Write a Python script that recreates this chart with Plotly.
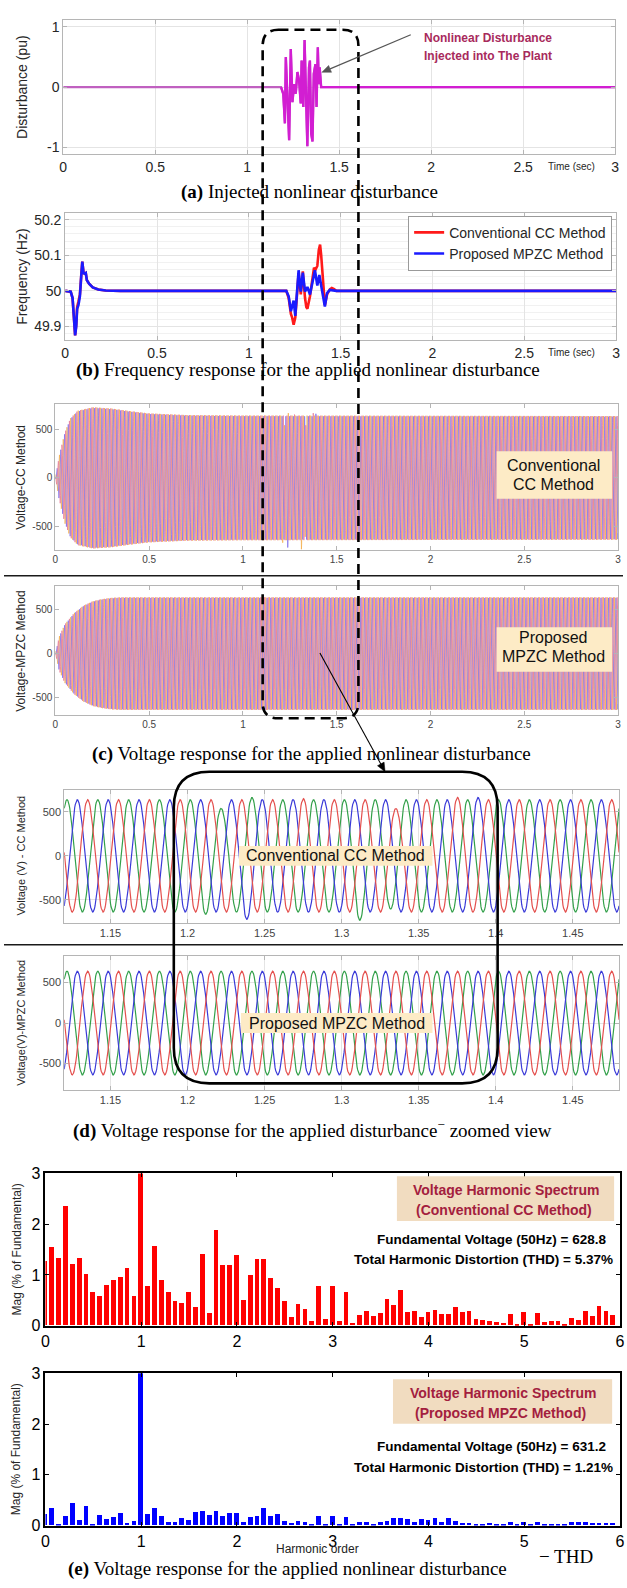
import numpy as np
import plotly.graph_objects as go

W, H = 627, 1588

# ---------------- DATA ----------------
# (a) injected disturbance (pu)
DIST_T = [0.0, 1.184, 1.196, 1.205, 1.210, 1.220, 1.228, 1.237, 1.246, 1.255, 1.264, 1.273, 1.282, 1.291,
          1.296, 1.305, 1.312, 1.319, 1.327, 1.336, 1.341, 1.348, 1.355, 1.362, 1.371, 1.377, 1.384, 1.389,
          1.394, 1.402, 3.0]
DIST_V = [0.0, 0.0, -0.11, -0.60, 0.50, -0.27, -0.88, 0.63, -0.25, 0.05, -0.11, 0.25, 0.11, -0.27,
          0.44, -0.33, 0.78, -0.05, -0.98, 0.33, 0.44, -0.77, -0.90, 0.22, 0.38, -0.33, 0.66, 0.05,
          0.33, 0.0, 0.0]
BURST_IDX = (1, 30)   # samples that form the burst

# (b) frequency (Hz)
FREQ_T_CC = [0.0, 0.03, 0.04, 0.047, 0.054, 0.06, 0.065, 0.072, 0.08, 0.087, 0.093, 0.1, 0.107, 0.112,
             0.118, 0.13, 0.15, 0.18, 0.22, 0.3,
             1.204, 1.217, 1.229, 1.236, 1.244, 1.253, 1.262, 1.271, 1.283, 1.294, 1.306, 1.313, 1.319,
             1.333, 1.348, 1.355, 1.363, 1.373, 1.381, 1.388, 1.394, 1.401, 1.407, 1.414, 1.426, 1.441,
             1.452, 1.462, 1.477, 3.0]
FREQ_CC = [50.0, 49.998, 49.98, 49.92, 49.875, 49.905, 49.955, 49.97, 49.99, 50.04, 50.082, 50.05, 50.048,
           50.05, 50.03, 50.02, 50.01, 50.004, 50.001, 50.0,
           50.0, 49.98, 49.935, 49.925, 49.905, 49.925, 49.99, 50.05, 49.99, 50.055, 49.98, 49.955, 49.95,
           49.985, 50.04, 50.065, 50.06, 50.07, 50.115, 50.13, 50.1, 50.04, 49.99, 49.96, 49.99, 50.004,
           50.008, 50.006, 50.0, 50.0]
FREQ_T_MPZC = [0.0, 0.03, 0.04, 0.047, 0.054, 0.06, 0.065, 0.072, 0.08, 0.087, 0.093, 0.1, 0.107, 0.112,
               0.118, 0.13, 0.15, 0.18, 0.22, 0.3,
               1.204, 1.217, 1.229, 1.244, 1.253, 1.271, 1.283, 1.294, 1.306, 1.319, 1.333, 1.348, 1.36,
               1.373, 1.384, 1.401, 1.414, 1.426, 1.441, 1.477, 3.0]
FREQ_MPZC = [50.0, 49.998, 49.98, 49.92, 49.875, 49.9, 49.95, 49.96, 49.985, 50.04, 50.082, 50.05, 50.048,
             50.05, 50.03, 50.02, 50.01, 50.004, 50.001, 50.0,
             50.0, 49.985, 49.943, 49.973, 49.93, 50.058, 49.998, 50.051, 49.998, 50.011, 49.99, 50.028,
             50.058, 50.015, 50.045, 49.994, 49.956, 49.994, 50.003, 50.0, 50.0]

# (c)/(d) three-phase voltages: amplitude envelopes (V)
CC_ENV_T = [0.0, 0.02, 0.05, 0.08, 0.12, 0.2, 0.3, 0.4, 0.5, 0.7, 1.0, 3.0]
CC_ENV_V = [0, 220, 460, 610, 690, 725, 712, 685, 662, 645, 640, 635]
MPZC_ENV_T = [0.0, 0.02, 0.05, 0.1, 0.15, 0.2, 0.25, 0.3, 0.35, 3.0]
MPZC_ENV_V = [0, 190, 330, 460, 545, 595, 620, 634, 640, 640]
F0 = 50.0                                    # fundamental (Hz)
PEAK_T0 = {'a': 1.1218, 'b': 1.1285, 'c': 1.1352}   # positive-peak times read from zoomed view
# distorted half-cycle peaks of the CC method read from the zoomed view: (time, phase, peak V)
CC_EVENTS = [(1.2118, 'a', -665), (1.2218, 'a', 540), (1.2385, 'b', -722), (1.2418, 'a', 665),
             (1.2752, 'c', 650), (1.3118, 'a', -732), (1.3318, 'a', -605), (1.3352, 'c', 540),
             (1.3752, 'c', -665), (1.3885, 'b', 665)]

# (e) harmonic spectra (% of fundamental), bins every 1/14 harmonic order
HARM_STEP = 1.0 / 14.0
HARM_CC = [1.27, 1.55, 1.33, 2.35, 1.21, 1.32, 1.02, 0.65, 0.57, 0.80,
           0.90, 0.96, 1.13, 0.57, 100.0, 0.77, 1.56, 0.90, 0.65, 0.48,
           0.45, 0.65, 0.36, 1.40, 0.25, 1.87, 1.19, 1.19, 1.38, 0.50,
           1.00, 1.30, 1.30, 0.94, 0.74, 0.48, 0.16, 0.43, 0.32, 0.09,
           0.78, 0.12, 0.78, 0.09, 0.65, 0.04, 0.20, 0.28, 0.18, 0.25,
           0.51, 0.40, 0.69, 0.26, 0.29, 0.16, 0.26, 0.31, 0.23, 0.23,
           0.37, 0.26, 0.29, 0.12, 0.10, 0.09, 0.06, 0.04, 0.23, 0.02,
           0.26, 0.03, 0.25, 0.06, 0.09, 0.09, 0.02, 0.15, 0.10, 0.28,
           0.19, 0.39, 0.28, 0.21]
HARM_MPZC = [0.23, 0.34, 0.02, 0.19, 0.44, 0.11, 0.39, 0.03, 0.20, 0.13,
             0.17, 0.24, 0.05, 0.09, 100.0, 0.23, 0.34, 0.19, 0.06, 0.06,
             0.15, 0.11, 0.26, 0.29, 0.21, 0.28, 0.19, 0.25, 0.24, 0.06,
             0.17, 0.18, 0.34, 0.19, 0.22, 0.09, 0.05, 0.09, 0.06, 0.02,
             0.18, 0.02, 0.19, 0.01, 0.17, 0.02, 0.06, 0.06, 0.02, 0.07,
             0.09, 0.14, 0.15, 0.12, 0.06, 0.12, 0.11, 0.14, 0.07, 0.14,
             0.09, 0.04, 0.04, 0.01, 0.03, 0.04, 0.03, 0.01, 0.06, 0.01,
             0.06, 0.01, 0.06, 0.01, 0.02, 0.02, 0.02, 0.06, 0.06, 0.07,
             0.04, 0.05, 0.04, 0.04]

# tick labels
T3_TICKS = [0, 0.5, 1, 1.5, 2, 2.5, 3]
T3_TEXT = ['0', '0.5', '1', '1.5', '2', '2.5', '3']
ZOOM_TICKS = [1.15, 1.2, 1.25, 1.3, 1.35, 1.4, 1.45]
ZOOM_TEXT = ['1.15', '1.2', '1.25', '1.3', '1.35', '1.4', '1.45']


# ---------------- helpers ----------------
def phase_wave(t, env_t, env_v, ph, events):
    w = 2 * np.pi * F0
    t0 = PEAK_T0[ph]
    theta = w * (t - t0) + np.pi / 2
    amp = np.interp(t, env_t, env_v).astype(float)
    n = np.floor(theta / np.pi).astype(int)
    for te, p, v in events:
        if p != ph:
            continue
        ne = int(np.floor((w * (te - t0) + np.pi / 2) / np.pi))
        amp[n == ne] = abs(v)
    return amp * np.sin(theta)


def px(x):
    return x / W


def py(y):
    return 1 - y / H


layout = dict(width=W, height=H, autosize=False, margin=dict(l=0, r=0, t=0, b=0),
              paper_bgcolor='white', plot_bgcolor='white',
              font=dict(family='Liberation Sans', color='#262626'))


def add_axes(n, xpx, ypx, xr, yr, xt, xtt, yt, ytt, tfont, lcolor='#b5b5b5', lwidth=1,
             grid=False, tcolor='#333333', yminor=None):
    xs = '' if n == 1 else str(n)
    layout['xaxis' + xs] = dict(domain=[px(xpx[0]), px(xpx[1])], range=xr, anchor='y' + xs,
                                tickvals=xt, ticktext=xtt, ticks='inside', ticklen=4, mirror='ticks',
                                showline=True, linecolor=lcolor, linewidth=lwidth, tickcolor=lcolor,
                                showgrid=grid, gridcolor='#e4e4e4', zeroline=False,
                                tickfont=dict(size=tfont, color=tcolor), fixedrange=True)
    ya = dict(domain=[py(ypx[1]), py(ypx[0])], range=yr, anchor='x' + xs,
              tickvals=yt, ticktext=ytt, ticks='inside', ticklen=4, mirror='ticks',
              showline=True, linecolor=lcolor, linewidth=lwidth, tickcolor=lcolor,
              showgrid=grid, gridcolor='#e4e4e4', zeroline=False,
              tickfont=dict(size=tfont, color=tcolor), fixedrange=True)
    if yminor:
        ya['minor'] = dict(dtick=yminor, showgrid=True, gridcolor='#f1f1f1', ticks='')
    layout['yaxis' + xs] = ya
    return ('x' + xs, 'y' + xs)


fig = go.Figure()

# ---- (a) ----
axA = add_axes(1, (60, 619), (12, 148), [0, 3], [-1.115, 1.115], T3_TICKS, T3_TEXT,
               [-1, 0, 1], ['-1', '0', '1'], 14, grid=True, tcolor='#262626')
fig.add_trace(go.Scatter(x=DIST_T, y=DIST_V, mode='lines', line=dict(color='#c060c0', width=2.2),
                         xaxis=axA[0], yaxis=axA[1], showlegend=False))
b0, b1 = BURST_IDX
fig.add_trace(go.Scatter(x=DIST_T[b0:b1 + 1], y=DIST_V[b0:b1 + 1], mode='lines',
                         line=dict(color='#d21ed2', width=2.4),
                         xaxis=axA[0], yaxis=axA[1], showlegend=False))

# ---- (b) ----
axB = add_axes(2, (62, 620), (207, 336), [0, 3], [49.861, 50.2194], T3_TICKS, T3_TEXT,
               [49.9, 50, 50.1, 50.2], ['49.9', '50', '50.1', '50.2'], 14, grid=True,
               tcolor='#262626', yminor=0.02)
fig.add_trace(go.Scatter(x=FREQ_T_CC, y=FREQ_CC, mode='lines', line=dict(color='#ff1a1a', width=2.6),
                         name='Conventional CC Method', xaxis=axB[0], yaxis=axB[1]))
fig.add_trace(go.Scatter(x=FREQ_T_MPZC, y=FREQ_MPZC, mode='lines', line=dict(color='#1a1aff', width=2.6),
                         name='Proposed MPZC Method', xaxis=axB[0], yaxis=axB[1]))

# ---- (c) full-scale voltages ----
t_full = np.arange(0.0, 3.0005, 0.001)
C_COLORS = {'a': '#f4b152', 'b': '#8274ec', 'c': '#e97f9b'}
axC1 = add_axes(3, (52, 622), (400, 548), [0, 3], [-740, 760], T3_TICKS, T3_TEXT,
                [-500, 0, 500], ['-500', '0', '500'], 10, tcolor='#444444')
axC2 = add_axes(4, (52, 622), (584, 715), [0, 3], [-700, 770], T3_TICKS, T3_TEXT,
                [-500, 0, 500], ['-500', '0', '500'], 10, tcolor='#444444')
for ph in ['a', 'b', 'c']:
    fig.add_trace(go.Scatter(x=t_full, y=phase_wave(t_full, CC_ENV_T, CC_ENV_V, ph, CC_EVENTS),
                             mode='lines', line=dict(color=C_COLORS[ph], width=0.8),
                             xaxis=axC1[0], yaxis=axC1[1], showlegend=False))
for ph in ['a', 'b', 'c']:
    fig.add_trace(go.Scatter(x=t_full, y=phase_wave(t_full, MPZC_ENV_T, MPZC_ENV_V, ph, []),
                             mode='lines', line=dict(color=C_COLORS[ph], width=0.8),
                             xaxis=axC2[0], yaxis=axC2[1], showlegend=False))

# ---- (d) zoomed voltages ----
t_zoom = np.arange(1.12, 1.4802, 0.0004)
D_COLORS = {'a': '#33a04a', 'b': '#3a3ad8', 'c': '#e4504e'}
axD1 = add_axes(5, (61, 623), (790, 925), [1.12, 1.48], [-765, 755], ZOOM_TICKS, ZOOM_TEXT,
                [-500, 0, 500], ['-500', '0', '500'], 11, grid=True, tcolor='#444444')
axD2 = add_axes(6, (61, 623), (958, 1094), [1.12, 1.48], [-830, 830], ZOOM_TICKS, ZOOM_TEXT,
                [-500, 0, 500], ['-500', '0', '500'], 11, grid=True, tcolor='#444444')
for ph in ['a', 'b', 'c']:
    fig.add_trace(go.Scatter(x=t_zoom, y=phase_wave(t_zoom, CC_ENV_T, CC_ENV_V, ph, CC_EVENTS),
                             mode='lines', line=dict(color=D_COLORS[ph], width=1.2),
                             xaxis=axD1[0], yaxis=axD1[1], showlegend=False))
for ph in ['a', 'b', 'c']:
    fig.add_trace(go.Scatter(x=t_zoom, y=phase_wave(t_zoom, MPZC_ENV_T, MPZC_ENV_V, ph, []),
                             mode='lines', line=dict(color=D_COLORS[ph], width=1.2),
                             xaxis=axD2[0], yaxis=axD2[1], showlegend=False))

# ---- (e) harmonic spectra ----
harm_x = [k * HARM_STEP for k in range(len(HARM_CC))]
E_XT = [0, 1, 2, 3, 4, 5, 6]
E_XTT = ['0', '1', '2', '3', '4', '5', '6']
axE1 = add_axes(7, (42, 624), (1178, 1332), [0, 6], [0, 3], E_XT, E_XTT, [0, 1, 2, 3],
                ['0', '1', '2', '3'], 16, lcolor='#000000', lwidth=1.5, tcolor='#000000')
axE2 = add_axes(8, (42, 624), (1380, 1534), [0, 6], [0, 3], E_XT, E_XTT, [0, 1, 2, 3],
                ['0', '1', '2', '3'], 16, lcolor='#000000', lwidth=1.5, tcolor='#000000')
fig.add_trace(go.Bar(x=harm_x, y=HARM_CC, width=0.05, marker=dict(color='#ff0000', line=dict(width=0)),
                     xaxis=axE1[0], yaxis=axE1[1], showlegend=False))
fig.add_trace(go.Bar(x=harm_x, y=HARM_MPZC, width=0.05, marker=dict(color='#0000ff', line=dict(width=0)),
                     xaxis=axE2[0], yaxis=axE2[1], showlegend=False))

layout['legend'] = dict(x=px(616), xanchor='right', y=py(210), yanchor='top', bgcolor='white',
                        bordercolor='#9a9a9a', borderwidth=1, font=dict(size=14, color='#262626'),
                        tracegroupgap=0)
layout['bargap'] = 0

# ---------------- shapes ----------------
def rrect_path(x0, y0, x1, y1, r):
    X0, X1 = x0 / W, x1 / W
    YT, YB = 1 - y0 / H, 1 - y1 / H
    rx, ry = r / W, r / H
    return (f"M {X0 + rx},{YT} L {X1 - rx},{YT} Q {X1},{YT} {X1},{YT - ry} "
            f"L {X1},{YB + ry} Q {X1},{YB} {X1 - rx},{YB} L {X0 + rx},{YB} "
            f"Q {X0},{YB} {X0},{YB + ry} L {X0},{YT - ry} Q {X0},{YT} {X0 + rx},{YT} Z")


shapes = []


def arrow_shape(xh, yh, xt, yt, color, width, hl=9.0, hw=3.8):
    dx, dy = xh - xt, yh - yt
    L = (dx * dx + dy * dy) ** 0.5
    ux, uy = dx / L, dy / L
    bx, by = xh - ux * hl, yh - uy * hl
    lx, ly = bx - uy * hw, by + ux * hw
    rx, ry = bx + uy * hw, by - ux * hw
    shapes.append(dict(type='line', xref='paper', yref='paper', x0=px(xt), y0=py(yt), x1=px(bx), y1=py(by),
                       line=dict(color=color, width=width), layer='above'))
    shapes.append(dict(type='path', xref='paper', yref='paper',
                       path=f"M {px(xh)},{py(yh)} L {px(lx)},{py(ly)} L {px(rx)},{py(ry)} Z",
                       fillcolor=color, line=dict(color=color, width=0.5), layer='above'))


BOX_BG = '#fdebc6'
for (x0, y0, x1, y1) in [(499, 448, 616, 496), (499, 626, 616, 671), (238, 847, 434, 867),
                         (240, 1016, 434, 1036)]:
    shapes.append(dict(type='rect', xref='paper', yref='paper', x0=px(x0), x1=px(x1), y0=py(y1), y1=py(y0),
                       fillcolor=BOX_BG, line=dict(width=0), layer='above'))
for (x0, y0, x1, y1) in [(398, 1181, 618, 1226), (394, 1386, 616, 1431)]:
    shapes.append(dict(type='rect', xref='paper', yref='paper', x0=px(x0), x1=px(x1), y0=py(y1), y1=py(y0),
                       fillcolor='#f1dcc0', line=dict(width=0), layer='above'))
for yy in [574, 947]:
    shapes.append(dict(type='line', xref='paper', yref='paper', x0=0, x1=1, y0=py(yy), y1=py(yy),
                       line=dict(color='#1a1a1a', width=1.5), layer='above'))
shapes.append(dict(type='path', xref='paper', yref='paper', path=rrect_path(262, 22, 359, 718, 16),
                   line=dict(color='black', width=2.6, dash='10px,6px'), layer='above'))
shapes.append(dict(type='path', xref='paper', yref='paper', path=rrect_path(172, 772, 500, 1087, 36),
                   line=dict(color='black', width=2.6), layer='above'))
arrow_shape(322, 65, 412, 27, '#555555', 1.2)
arrow_shape(386, 772, 320, 652, '#000000', 1.1)
layout['shapes'] = shapes

# ---------------- annotations ----------------
ann = []


def text(x, y, s, size, color='#262626', family='Liberation Sans', angle=0, xanchor='center'):
    ann.append(dict(x=px(x), y=py(y), xref='paper', yref='paper', text=s, showarrow=False,
                    textangle=angle, xanchor=xanchor, yanchor='middle',
                    font=dict(size=size, color=color, family=family)))


# y titles
text(18, 80, 'Disturbance (pu)', 14, angle=-90)
text(18, 272, 'Frequency (Hz)', 14, angle=-90)
text(17, 474, 'Voltage-CC Method', 12, angle=-90)
text(17, 650, 'Voltage-MPZC Method', 12, angle=-90)
text(17, 857, 'Voltage (V) - CC Method', 11, angle=-90)
text(17, 1026, 'Voltage(V)-MPZC Method', 11, angle=-90)
text(13, 1255, 'Mag (% of Fundamental)', 12, angle=-90)
text(13, 1457, 'Mag (% of Fundamental)', 12, angle=-90)

# Time (sec) labels
text(575, 160, 'Time (sec)', 10)
text(575, 348, 'Time (sec)', 10)

# (a) annotation
text(490, 30, '<b>Nonlinear Disturbance</b>', 12, color='#a82a5c')
text(490, 49, '<b>Injected into The Plant</b>', 12, color='#a82a5c')

# (c)/(d) box labels
text(557, 462, 'Conventional', 16, color='#111111')
text(557, 482, 'CC Method', 16, color='#111111')
text(557, 636, 'Proposed', 16, color='#111111')
text(557, 656, 'MPZC Method', 16, color='#111111')
text(336, 857, 'Conventional CC Method', 16, color='#111111')
text(337, 1026, 'Proposed MPZC Method', 16, color='#111111')

# (e) labels
ECOL = '#a3203e'
text(508, 1195, '<b>Voltage Harmonic Spectrum</b>', 14, color=ECOL)
text(506, 1215, '<b>(Conventional CC Method)</b>', 14, color=ECOL)
text(612, 1245, '<b>Fundamental Voltage (50Hz) = 628.8</b>', 13.5, color='#000000', xanchor='right')
text(619, 1265, '<b>Total Harmonic Distortion (THD) = 5.37%</b>', 13.5, color='#000000', xanchor='right')
text(505, 1400, '<b>Voltage Harmonic Spectrum</b>', 14, color=ECOL)
text(503, 1420, '<b>(Proposed MPZC Method)</b>', 14, color=ECOL)
text(612, 1454, '<b>Fundamental Voltage (50Hz) = 631.2</b>', 13.5, color='#000000', xanchor='right')
text(619, 1475, '<b>Total Harmonic Distortion (THD) = 1.21%</b>', 13.5, color='#000000', xanchor='right')
text(318, 1558, 'Harmonic order', 12, color='#222222')

# captions
SERIF = 'Liberation Serif'
text(309, 186, '<b>(a)</b> Injected nonlinear disturbance', 19, color='#000000', family=SERIF)
text(308, 366, '<b>(b)</b> Frequency response for the applied nonlinear disturbance', 19,
     color='#000000', family=SERIF)
text(311, 754, '<b>(c)</b> Voltage response for the applied nonlinear disturbance', 19,
     color='#000000', family=SERIF)
text(312, 1134, '<b>(d)</b> Voltage response for the applied disturbance<sup>\u2212</sup> zoomed view', 19,
     color='#000000', family=SERIF)
text(569, 1565, '\u2212 THD', 19, color='#000000', family=SERIF)
text(287, 1578, '<b>(e)</b> Voltage response for the applied nonlinear disturbance', 19,
     color='#000000', family=SERIF)

layout['annotations'] = ann
fig.update_layout(**layout)
fig.write_html("out.html", config={'displayModeBar': False},
               post_script="document.body.style.margin='0px';")
